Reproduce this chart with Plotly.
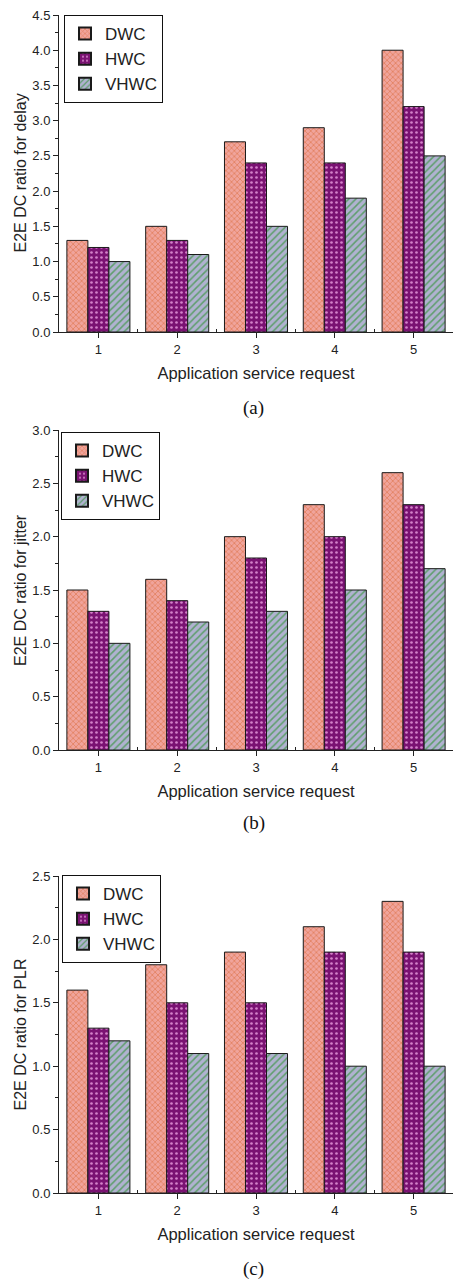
import plotly.graph_objects as go

categories = [1, 2, 3, 4, 5]
series_names = ["DWC", "HWC", "VHWC"]

delay_dwc = [1.3, 1.5, 2.7, 2.9, 4.0]
delay_hwc = [1.2, 1.3, 2.4, 2.4, 3.2]
delay_vhwc = [1.0, 1.1, 1.5, 1.9, 2.5]

jitter_dwc = [1.5, 1.6, 2.0, 2.3, 2.6]
jitter_hwc = [1.3, 1.4, 1.8, 2.0, 2.3]
jitter_vhwc = [1.0, 1.2, 1.3, 1.5, 1.7]

plr_dwc = [1.6, 1.8, 1.9, 2.1, 2.3]
plr_hwc = [1.3, 1.5, 1.5, 1.9, 1.9]
plr_vhwc = [1.2, 1.1, 1.1, 1.0, 1.0]

y_titles = ["E2E DC ratio for delay", "E2E DC ratio for jitter", "E2E DC ratio for PLR"]
y_ranges = [[0, 4.5], [0, 3.0], [0, 2.5]]
captions = ["(a)", "(b)", "(c)"]
x_title = "Application service request"

W, H = 453, 1281
FONT = "Liberation Sans, Arial, sans-serif"

styles = [
    dict(bg="#F0A49C", fg="#E27E5C", shape="x", size=4, solidity=0.35),
    dict(bg="#7A1272", fg="#D482CA", shape=".", size=5, solidity=0.22),
    dict(bg="#B0B2D0", fg="#5E9E6C", shape="/", size=5, solidity=0.3),
]

panels = [
    [delay_dwc, delay_hwc, delay_vhwc],
    [jitter_dwc, jitter_hwc, jitter_vhwc],
    [plr_dwc, plr_hwc, plr_vhwc],
]

# pixel geometry (top, bottom of plot area)
px_rows = [(15, 332), (430, 750), (876, 1193)]
x_left_px = 59
ytitle_x_px = 20
legend_tops = [15, 432, 875]
legend_left = [64, 61, 62]
caption_y = [408, 823, 1269]

fig = go.Figure()
layout = dict(
    width=W, height=H,
    margin=dict(l=0, r=0, t=0, b=0),
    paper_bgcolor="white", plot_bgcolor="white",
    barmode="group", bargap=0.2, bargroupgap=0.0,
    font=dict(family=FONT, color="#222222"),
    showlegend=True,
    annotations=[],
)

for i, data in enumerate(panels):
    xa = "x" if i == 0 else f"x{i+1}"
    ya = "y" if i == 0 else f"y{i+1}"
    leg = "legend" if i == 0 else f"legend{i+1}"
    for j, vals in enumerate(data):
        s = styles[j]
        fig.add_trace(go.Bar(
            x=categories, y=vals, name=series_names[j],
            xaxis=xa, yaxis=ya, legend=leg,
            marker=dict(
                color=s["bg"],
                line=dict(color="#1a1a1a", width=1),
                pattern=dict(shape=s["shape"], fgcolor=s["fg"], bgcolor=s["bg"],
                             size=s["size"], solidity=s["solidity"], fillmode="replace"),
            ),
        ))
    top, bot = px_rows[i]
    ydom = [1 - bot / H, 1 - top / H]
    xkey = "xaxis" if i == 0 else f"xaxis{i+1}"
    ykey = "yaxis" if i == 0 else f"yaxis{i+1}"
    layout[xkey] = dict(
        domain=[x_left_px / W, 1], anchor=ya, range=[0.5, 5.5],
        tickmode="array", tickvals=categories, ticktext=[str(c) for c in categories],
        ticks="outside", ticklen=5, tickwidth=1, tickcolor="#222",
        showline=True, linecolor="#222", linewidth=1,
        showgrid=False, zeroline=False,
        tickfont=dict(size=13, family=FONT),
        minor=dict(tickmode="array", tickvals=[1.5, 2.5, 3.5, 4.5],
                   ticks="inside", ticklen=3, tickcolor="#222", showgrid=False),
        title=dict(text=x_title, font=dict(size=16.5, family=FONT), standoff=11),
        automargin=False, fixedrange=True,
    )
    layout[ykey] = dict(
        domain=ydom, anchor=xa, range=y_ranges[i],
        dtick=0.5, tick0=0, tickformat=".1f",
        ticks="outside", ticklen=5, tickwidth=1, tickcolor="#222",
        showline=True, linecolor="#222", linewidth=1,
        showgrid=False, zeroline=False,
        tickfont=dict(size=13, family=FONT),
        minor=dict(dtick=0.25, ticks="outside", ticklen=3, tickcolor="#222", showgrid=False),
        automargin=False, fixedrange=True,
    )
    layout[leg] = dict(
        x=legend_left[i] / W, y=1 - legend_tops[i] / H,
        xanchor="left", yanchor="top",
        bgcolor="white", bordercolor="#111", borderwidth=1,
        font=dict(size=17, family=FONT, color="#222"),
        tracegroupgap=0, itemsizing="constant",
    )
    layout["annotations"].append(dict(
        text=y_titles[i], x=ytitle_x_px / W, y=(ydom[0] + ydom[1]) / 2,
        xref="paper", yref="paper", showarrow=False, textangle=-90,
        font=dict(size=16, family=FONT, color="#222"),
        xanchor="center", yanchor="middle",
    ))
    layout["annotations"].append(dict(
        text=captions[i], x=(x_left_px / W + 1) / 2 - 0.005, y=1 - caption_y[i] / H,
        xref="paper", yref="paper", showarrow=False,
        font=dict(size=19, family="Liberation Serif, Times New Roman, serif", color="#111"),
        xanchor="center", yanchor="middle",
    ))

fig.update_layout(**layout)
fig.write_html("out.html")
